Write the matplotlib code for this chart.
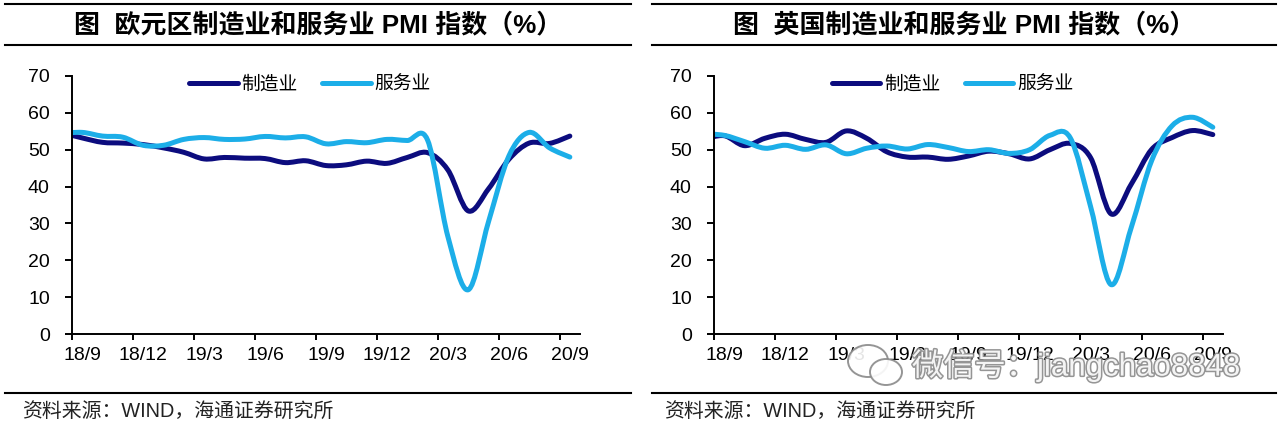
import matplotlib
matplotlib.use("Agg")
import matplotlib.pyplot as plt
from matplotlib.path import Path
from matplotlib.patches import PathPatch, Ellipse
from matplotlib.lines import Line2D
import matplotlib.patheffects as pe

# monthly PMI, 18/8 .. 20/9 (18/8 only shapes the curve left of the axis)
tick_labels = ['18/9', '18/12', '19/3', '19/6', '19/9', '19/12', '20/3', '20/6', '20/9']

ez_manu = [54.6, 53.2, 52.0, 51.8, 51.4, 50.5, 49.3, 47.5, 47.9, 47.7, 47.6, 46.5, 47.0,
           45.7, 45.9, 46.9, 46.3, 47.9, 49.2, 44.5, 33.4, 39.4, 47.4, 51.8, 51.7, 53.7]
ez_serv = [54.4, 54.7, 53.7, 53.4, 51.2, 51.2, 52.8, 53.3, 52.8, 52.9, 53.6, 53.2, 53.5,
           51.6, 52.2, 51.9, 52.8, 52.5, 52.6, 26.4, 12.0, 30.5, 48.3, 54.7, 50.5, 48.0]
uk_manu = [52.8, 53.8, 51.1, 53.1, 54.2, 52.8, 52.0, 55.1, 53.1, 49.4, 48.0, 48.0, 47.4,
           48.3, 49.6, 48.9, 47.5, 50.0, 51.7, 47.8, 32.6, 40.7, 50.1, 53.3, 55.2, 54.1]
uk_serv = [54.3, 53.9, 52.2, 50.4, 51.2, 50.1, 51.3, 48.9, 50.4, 51.0, 50.2, 51.4, 50.6,
           49.5, 50.0, 49.0, 50.0, 53.9, 53.2, 34.5, 13.4, 29.0, 47.1, 56.5, 58.8, 56.1]

series_names = ['制造业', '服务业']
titles = ['图  欧元区制造业和服务业 PMI 指数（%）', '图  英国制造业和服务业 PMI 指数（%）']
source = '资料来源：WIND，海通证券研究所'

NAVY = '#0c0c7e'
SKY = '#1caee8'
CJK = ['Liberation Sans', 'Noto Sans CJK SC']


def smooth_path(xs, ys):
    # excel-like smoothed line: catmull-rom turned into cubic beziers
    n = len(xs)
    verts = [(xs[0], ys[0])]
    codes = [Path.MOVETO]
    for i in range(n - 1):
        a = max(i - 1, 0)
        d = min(i + 2, n - 1)
        c1 = (xs[i] + (xs[i + 1] - xs[a]) / 6, ys[i] + (ys[i + 1] - ys[a]) / 6)
        c2 = (xs[i + 1] - (xs[d] - xs[i]) / 6, ys[i + 1] - (ys[d] - ys[i]) / 6)
        verts += [c1, c2, (xs[i + 1], ys[i + 1])]
        codes += [Path.CURVE4] * 3
    return Path(verts, codes)


def draw_panel(ax, manu, serv):
    xs = [i - 0.5 for i in range(len(manu))]   # points sit mid-month
    for vals, col in ((manu, NAVY), (serv, SKY)):
        ax.add_patch(PathPatch(smooth_path(xs, vals), fill=False, edgecolor=col,
                               linewidth=3.6, capstyle='round', joinstyle='round'))
    ax.set_xlim(0, 25)
    ax.set_ylim(0, 70)
    ax.set_yticks(range(0, 71, 10))
    ax.set_xticks(range(0, 25, 3))
    ax.set_xticklabels([])
    ax.set_xticks([t + 0.5 for t in range(0, 25, 3)], minor=True)
    ax.set_xticklabels(tick_labels, minor=True)
    for s in ('top', 'right'):
        ax.spines[s].set_visible(False)
    for s in ('left', 'bottom'):
        ax.spines[s].set_linewidth(1.4)
    ax.tick_params(axis='y', direction='out', length=5, width=1.4, pad=11,
                   labelsize=14)
    ax.tick_params(axis='x', which='major', direction='out', length=4.5, width=1.4)
    ax.tick_params(axis='x', which='minor', length=0, pad=9, labelsize=14)
    for lab in ax.get_xticklabels(minor=True) + ax.get_yticklabels():
        lab.set_family('Liberation Sans')
    handles = [Line2D([], [], color=NAVY, lw=3.6, solid_capstyle='round'),
               Line2D([], [], color=SKY, lw=3.6, solid_capstyle='round')]
    ax.legend(handles, series_names, loc='center', bbox_to_anchor=(0.4685, 0.969),
              ncol=2, frameon=False, borderpad=0, handlelength=2.6, handletextpad=0.2,
              columnspacing=1.3, prop={'family': 'Noto Sans CJK SC', 'size': 13.5})


fig = plt.figure(figsize=(12.8, 4.23), dpi=100)
W, H = 1280.0, 423.0

ax1 = fig.add_axes([72 / W, 89 / H, 508 / W, 258 / H])
ax2 = fig.add_axes([714 / W, 89 / H, 509 / W, 258 / H])
draw_panel(ax1, ez_manu, ez_serv)
draw_panel(ax2, uk_manu, uk_serv)

# header / footer rules and texts
for x0, x1, title, sx in ((5, 631, titles[0], 22), (652, 1276, titles[1], 664)):
    for yy in (4, 45, 393):
        fig.add_artist(Line2D([x0 / W, x1 / W], [1 - yy / H, 1 - yy / H],
                              transform=fig.transFigure, color='black', lw=1.5))
    fig.text((x0 + x1) / 2 / W, 1 - 25 / H, title, ha='center', va='center',
             fontsize=18.7, fontweight='bold', family=CJK)
    fig.text(sx / W, 1 - 411 / H, source, ha='left', va='center', fontsize=14.3,
             family=CJK, color='#222222')

# watermark over the right panel
outline = [pe.withStroke(linewidth=2.2, foreground='#8a8a8a')]
fig.text(912 / W, 1 - 366 / H, '微信号：jiangchao8848', ha='left', va='center',
         fontsize=22.5, family=['Liberation Sans', 'Noto Sans CJK SC'], color='white',
         path_effects=outline, alpha=0.9)
for cx, cy, w, h in ((868, 361, 40, 32), (886, 372, 32, 26)):
    fig.add_artist(Ellipse((cx / W, 1 - cy / H), w / W, h / H, transform=fig.transFigure,
                           facecolor='white', edgecolor='#8a8a8a', lw=1.4, alpha=0.9))

fig.savefig('out.png', dpi=100)
